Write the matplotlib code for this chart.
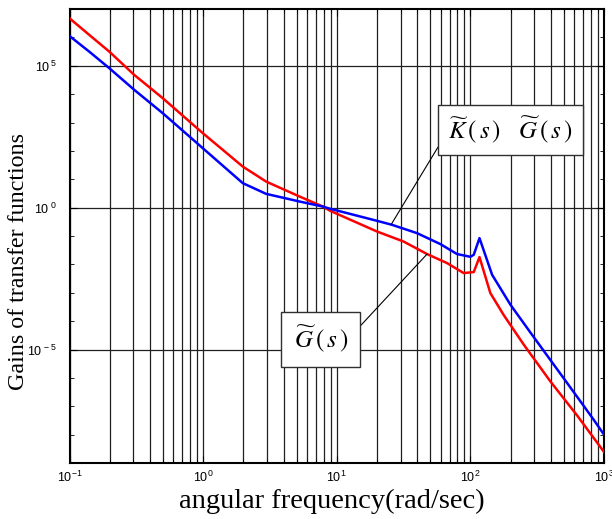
import matplotlib
matplotlib.use("Agg")
import matplotlib.pyplot as plt
import numpy as np
from matplotlib.ticker import FixedLocator, NullFormatter

plt.rcParams["mathtext.fontset"] = "custom"
plt.rcParams["mathtext.rm"] = "Liberation Sans"
plt.rcParams["mathtext.it"] = "Liberation Sans:italic"
plt.rcParams["mathtext.bf"] = "Liberation Sans:bold"

# ---- data ----
freq_kg = [0.1, 0.1407, 0.1988, 0.3055, 0.499, 0.995, 1.98, 2.96, 5.27, 7.88, 8.94,
           20.0, 25.9, 39.9, 59.6, 79.5, 100, 106, 117, 145.4, 199.5, 281, 397,
           500, 706, 839, 1000]
gain_kg = [1.12e6, 3.13e5, 8.17e4, 1.41e4, 2.12e3, 124, 7.3, 3.06, 1.64, 1.09, 0.91,
           0.343, 0.248, 0.126, 0.0519, 0.0231, 0.0185, 0.0218, 0.0843, 4.3e-3,
           3.78e-4, 4.0e-5, 4.27e-6, 9.6e-7, 1.02e-7, 3.3e-8, 1.0e-8]

freq_g = [0.1, 0.1407, 0.1988, 0.3055, 0.499, 0.995, 1.98, 2.96, 5.27, 7.88, 8.94,
          20.0, 31.6, 47.4, 66.9, 89.1, 106, 117, 141, 177, 251, 397, 630, 1000]
gain_g = [4.71e6, 1.22e6, 3.13e5, 4.74e4, 7.18e3, 420, 28, 8.3, 2.46, 1.09, 0.77,
          0.144, 0.064, 0.0231, 0.0111, 4.94e-3, 5.36e-3, 0.0181, 9.8e-4, 1.68e-4,
          1.48e-5, 7.5e-7, 4.7e-8, 2.46e-9]

xlabel = "angular frequency(rad/sec)"
ylabel = "Gains of transfer functions"
label_kg = r"$\widetilde{K}\,(\,s\,)\quad\widetilde{G}\,(\,s\,)$"
label_g = r"$\widetilde{G}\,(\,s\,)$"

xmajor = [1e-1, 1e0, 1e1, 1e2, 1e3]
xmajor_labels = [r"$10^{-1}$", r"$10^{0}$", r"$10^{1}$", r"$10^{2}$", r"$10^{3}$"]
ymajor = [1e-5, 1e0, 1e5]
ymajor_labels = [r"$10^{\,-5}$", r"$10^{\ 0}$", r"$10^{\,5}$"]

# ---- figure ----
fig = plt.figure(figsize=(6.12, 5.19), dpi=100)
ax = fig.add_axes([69.5 / 612, 56 / 519, (604 - 69.5) / 612, (463 - 9) / 519])
ax.set_xscale("log")
ax.set_yscale("log")
ax.set_xlim(0.1, 1000)
ax.set_ylim(1e-9, 1e7)

xminor = [m * 10.0 ** e for e in range(-1, 3) for m in range(2, 10)]
ax.xaxis.set_major_locator(FixedLocator(xmajor))
ax.xaxis.set_minor_locator(FixedLocator(xminor))
ax.set_xticklabels(xmajor_labels)
ax.xaxis.set_minor_formatter(NullFormatter())
ax.grid(True, which="both", axis="x", color="#202020", lw=0.9)

ax.yaxis.set_major_locator(FixedLocator(ymajor))
ax.yaxis.set_minor_locator(FixedLocator([10.0 ** e for e in range(-9, 8)]))
ax.set_yticklabels(ymajor_labels)
ax.yaxis.set_minor_formatter(NullFormatter())
ax.grid(True, which="major", axis="y", color="#202020", lw=0.9)

ax.tick_params(which="both", direction="in", top=True, right=True, labelsize=9)
ax.tick_params(which="major", length=5)
ax.tick_params(which="minor", length=3)
ax.tick_params(axis="x", pad=5)
ax.tick_params(axis="y", pad=9)
for s in ax.spines.values():
    s.set_linewidth(1.5)

ax.plot(freq_g, gain_g, color="#ff0000", lw=1.8, zorder=3)
ax.plot(freq_kg, gain_kg, color="#0000ff", lw=1.8, zorder=3)

ax.set_xlabel(xlabel, family="Liberation Serif", fontsize=20.5)
ax.xaxis.set_label_coords(0.49, -0.058)
ax.set_ylabel(ylabel, family="Liberation Serif", fontsize=17.3)
ax.yaxis.set_label_coords(-0.075, 0.444)

bbox = dict(boxstyle="square,pad=0.4", fc="white", ec="#303030", lw=1.0)
ax.annotate(label_kg, xy=(25.5, 0.25), xytext=(200, 550), textcoords="data",
            ha="center", va="center", fontsize=18, math_fontfamily="stix",
            bbox=bbox, zorder=5,
            arrowprops=dict(arrowstyle="-", color="k", lw=0.8, relpos=(0, 0.5),
                            shrinkA=0, shrinkB=0))
ax.annotate(label_g, xy=(47.4, 0.023), xytext=(7.6, 2.3e-5), textcoords="data",
            ha="center", va="center", fontsize=18, math_fontfamily="stix",
            bbox=dict(boxstyle="square,pad=0.5", fc="white", ec="#303030", lw=1.0),
            zorder=5,
            arrowprops=dict(arrowstyle="-", color="k", lw=0.8, relpos=(1, 0.5),
                            shrinkA=0, shrinkB=0))

fig.savefig("out.png", dpi=100)
